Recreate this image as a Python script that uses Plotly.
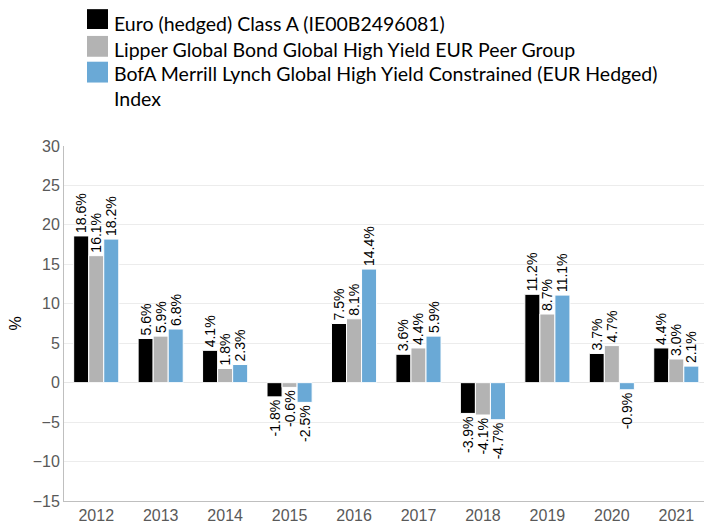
import plotly.graph_objects as go

years = ["2012", "2013", "2014", "2015", "2016", "2017", "2018", "2019", "2020", "2021"]
fund = [18.6, 5.6, 4.1, -1.8, 7.5, 3.6, -3.9, 11.2, 3.7, 4.4]
peer = [16.1, 5.9, 1.8, -0.6, 8.1, 4.4, -4.1, 8.7, 4.7, 3.0]
index = [18.2, 6.8, 2.3, -2.5, 14.4, 5.9, -4.7, 11.1, -0.9, 2.1]
names = [
    "Euro (hedged) Class A (IE00B2496081)",
    "Lipper Global Bond Global High Yield EUR Peer Group",
    "BofA Merrill Lynch Global High Yield Constrained (EUR Hedged)<br>Index",
]
colors = ["#000000", "#b3b3b3", "#6aa9d6"]
y_ticks = [-15, -10, -5, 0, 5, 10, 15, 20, 25, 30]
y_title = "%"

L, T, PW, PH = 64, 146, 640, 358


def px(xp):
    return (xp - L) / PW


def py(yp):
    return 1 + (T - yp) / PH


fig = go.Figure()
for vals, nm, col in zip([fund, peer, index], names, colors):
    fig.add_trace(go.Bar(
        x=years, y=vals, name=nm,
        marker=dict(color=col, line=dict(color="#ffffff", width=1)),
        text=[f"{v:.1f}%" for v in vals],
        textposition="outside", textangle=-90,
        constraintext="none", cliponaxis=False,
        textfont=dict(family="Liberation Sans, Arial", size=14, color="#000000"),
        showlegend=False,
    ))

# legend drawn manually (larger swatches)
font_leg = dict(family="Lato, Open Sans", size=19.5, color="#000000")
rows = [(8, 28), (35, 56), (61, 82)]
text_centers = [21.5, 48, 84.5]
for (y0, y1), yc, nm, col in zip(rows, text_centers, names, colors):
    fig.add_shape(type="rect", xref="paper", yref="paper",
                  x0=px(87), x1=px(108), y0=py(y1), y1=py(y0),
                  fillcolor=col, line=dict(width=0))
    fig.add_annotation(text=nm, xref="paper", yref="paper",
                       x=px(112), y=py(yc + 1),
                       xanchor="left", yanchor="middle", align="left",
                       showarrow=False, font=font_leg)

# y-axis title
fig.add_annotation(text=y_title, xref="paper", yref="paper",
                   x=px(15), y=py(325), xanchor="center", yanchor="middle",
                   textangle=-90, showarrow=False,
                   font=dict(family="Liberation Sans, Arial", size=16, color="#000000"))

fig.update_layout(
    width=704, height=524,
    margin=dict(l=L, r=0, t=T, b=524 - T - PH),
    barmode="group", bargap=0.30, bargroupgap=0,
    plot_bgcolor="#ffffff", paper_bgcolor="#ffffff",
    showlegend=False,
    font=dict(family="Liberation Sans, Arial", size=16, color="#595959"),
)
fig.update_xaxes(
    range=[-0.5, 9.43], showline=True, linecolor="#bfbfbf", linewidth=1,
    showgrid=False, ticks="", tickfont=dict(size=16, color="#595959"),
)
fig.update_yaxes(
    range=[-15, 30], tickvals=y_ticks, showline=True, linecolor="#bfbfbf", linewidth=1,
    gridcolor="#ececec", zeroline=True, zerolinecolor="#e6e6e6", zerolinewidth=1,
    ticks="", tickfont=dict(size=16, color="#595959"),
)

fig.write_html(
    "out.html",
    config={"displayModeBar": False},
    post_script="document.body.style.margin='0';document.body.style.padding='0';",
)
